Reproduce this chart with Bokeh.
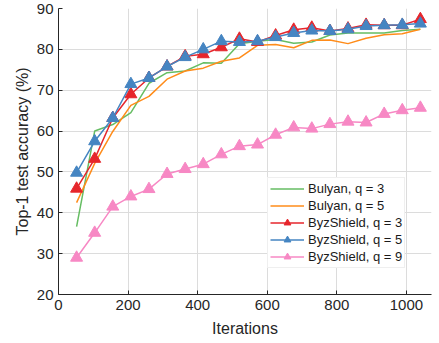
from bokeh.plotting import figure
from bokeh.models import Range1d, Legend, LegendItem, FixedTicker
from bokeh.embed import file_html
from bokeh.resources import INLINE

iterations = [52 * i for i in range(1, 21)]
bulyan_q3 = [36.6, 60.0, 61.6, 64.5, 71.7, 74.3, 74.7, 76.7, 76.6, 81.4,
             82.0, 82.4, 81.5, 81.8, 83.5, 84.0, 84.0, 84.0, 84.6, 84.9]
bulyan_q5 = [42.5, 52.1, 59.9, 66.3, 68.5, 72.7, 74.7, 75.4, 77.1, 77.9,
             81.0, 81.2, 80.4, 82.2, 82.3, 81.4, 82.7, 83.6, 83.8, 84.9]
byz_q3 = [45.9, 53.2, 63.2, 69.0, 73.0, 75.8, 78.3, 78.8, 80.5, 82.6,
          81.8, 83.4, 84.8, 85.3, 84.5, 85.1, 86.0, 85.9, 85.9, 87.4]
byz_q5 = [49.8, 57.5, 63.2, 71.5, 73.0, 75.8, 78.1, 80.0, 82.0, 81.8,
          82.0, 83.0, 84.0, 84.6, 84.5, 84.9, 85.7, 85.9, 86.0, 86.3]
byz_q9 = [29.0, 35.1, 41.5, 44.0, 45.8, 49.5, 50.7, 51.9, 54.3, 56.3,
          56.7, 59.1, 60.9, 60.6, 61.7, 62.3, 62.1, 64.2, 65.1, 65.7]

x_ticks = [0, 200, 400, 600, 800, 1000]
y_ticks = [20, 30, 40, 50, 60, 70, 80, 90]

FONT = "Liberation Sans"

p = figure(width=439, height=343, output_backend="svg", toolbar_location=None,
           x_range=Range1d(0, 1072), y_range=Range1d(20, 90),
           min_border_left=58, min_border_right=8, min_border_top=8, min_border_bottom=49)
p.outline_line_color = None
p.background_fill_color = "white"
p.border_fill_color = "white"

for ax in (p.xaxis[0], p.yaxis[0]):
    ax.axis_line_color = "#262626"
    ax.axis_line_width = 1
    ax.major_tick_line_color = "#262626"
    ax.major_tick_in = 4
    ax.major_tick_out = 0
    ax.minor_tick_line_color = None
    ax.major_label_text_font = FONT
    ax.major_label_text_font_size = "15px"
    ax.major_label_text_color = "#262626"
    ax.axis_label_text_font = FONT
    ax.axis_label_text_font_size = "16px"
    ax.axis_label_text_font_style = "normal"
    ax.axis_label_text_color = "#262626"

p.xaxis[0].ticker = FixedTicker(ticks=x_ticks)
p.yaxis[0].ticker = FixedTicker(ticks=y_ticks)
p.xaxis[0].axis_label = "Iterations"
p.yaxis[0].axis_label = "Top-1 test accuracy (%)"
p.xaxis[0].axis_label_standoff = 7
p.yaxis[0].axis_label_standoff = 3

p.xgrid.grid_line_color = "#dcdcdc"
p.ygrid.grid_line_color = "#dcdcdc"
p.xgrid.ticker = FixedTicker(ticks=x_ticks)
p.ygrid.ticker = FixedTicker(ticks=y_ticks)

GREEN = "#66bd63"
ORANGE = "#ff8c1a"
RED = "#e6262c"
BLUE = "#4585c2"
PINK = "#f788c4"

items = []
r1 = p.line(iterations, bulyan_q3, line_color=GREEN, line_width=1.5)
items.append(LegendItem(label="Bulyan, q = 3", renderers=[r1]))
r2 = p.line(iterations, bulyan_q5, line_color=ORANGE, line_width=1.5)
items.append(LegendItem(label="Bulyan, q = 5", renderers=[r2]))

rl3 = p.line(iterations, byz_q3, line_color=RED, line_width=1.5)
rs3 = p.scatter(iterations, byz_q3, marker="triangle", size=12, fill_color=RED, line_color=RED)
rl5 = p.line(iterations, byz_q5, line_color=BLUE, line_width=1.5)
rs5 = p.scatter(iterations, byz_q5, marker="triangle", size=12, fill_color=BLUE, line_color=BLUE)
rl9 = p.line(iterations, byz_q9, line_color=PINK, line_width=1.5)
rs9 = p.scatter(iterations, byz_q9, marker="triangle", size=12, fill_color=PINK, line_color=PINK)
items.append(LegendItem(label="ByzShield, q = 3", renderers=[rl3, rs3]))
items.append(LegendItem(label="ByzShield, q = 5", renderers=[rl5, rs5]))
items.append(LegendItem(label="ByzShield, q = 9", renderers=[rl9, rs9]))

legend = Legend(items=items, location=(209, 26), label_text_font=FONT,
                label_text_font_size="13px", label_text_color="#1a1a1a",
                glyph_width=34, glyph_height=17, label_height=17,
                spacing=0, padding=2, margin=0,
                border_line_color="#e0e0e0", background_fill_color="white",
                background_fill_alpha=1.0, label_standoff=4)
p.add_layout(legend)

open("out.html", "w").write(file_html(p, INLINE))
